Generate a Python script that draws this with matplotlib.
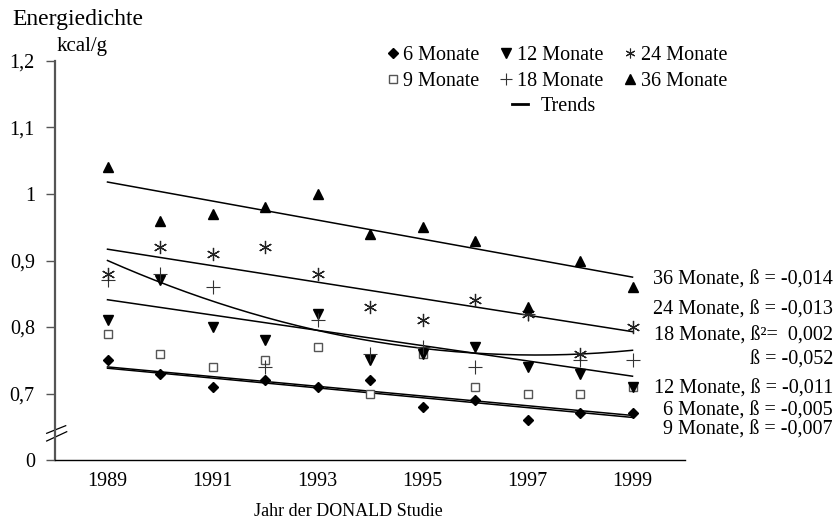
import numpy as np
import matplotlib
matplotlib.use('Agg')
import matplotlib.pyplot as plt
from matplotlib.lines import Line2D

plt.rcParams['font.family'] = ['Liberation Serif', 'DejaVu Serif']

years = np.arange(1989, 2000)
m6 = [0.75, 0.73, 0.71, 0.72, 0.71, 0.72, 0.68, 0.69, 0.66, 0.67, 0.67]
m9 = [0.79, 0.76, 0.74, 0.75, 0.77, 0.70, 0.76, 0.71, 0.70, 0.70, 0.71]
m12 = [0.81, 0.87, 0.80, 0.78, 0.82, 0.75, 0.76, 0.77, 0.74, 0.73, 0.71]
m18 = [0.87, 0.88, 0.86, 0.74, 0.81, 0.76, 0.77, 0.74, 0.82, 0.75, 0.75]
m24 = [0.88, 0.92, 0.91, 0.92, 0.88, 0.83, 0.81, 0.84, 0.82, 0.76, 0.80]
m36 = [1.04, 0.96, 0.97, 0.98, 1.00, 0.94, 0.95, 0.93, 0.83, 0.90, 0.86]

# linear trends: value at 1989 and at 1999
trend_lin = {'36': (1.018, 0.875), '24': (0.917, 0.793), '12': (0.841, 0.726),
             '6': (0.740, 0.667), '9': (0.738, 0.664)}
# 18 Monate: quadratic trend, t = Jahr - 1989
trend18 = (0.900, -0.0348, 0.00213)

notes = ['36 Monate, ß = -0,014', '24 Monate, ß = -0,013', '18 Monate, ß²=  0,002',
         'ß = -0,052', '12 Monate, ß = -0,011', '6 Monate, ß = -0,005', '9 Monate, ß = -0,007']
note_y = [280, 310, 336.5, 360, 389, 411.5, 430]

yticks = [0.6, 0.7, 0.8, 0.9, 1.0, 1.1, 1.2]
yticklabels = ['0', '0,7', '0,8', '0,9', '1', '1,1', '1,2']

W, H = 838, 530
fig = plt.figure(figsize=(W/100, H/100), dpi=100)
ax = fig.add_axes([55/W, 1-460/H, 630/W, 399/H])

fs = 14.5
gray = '#555555'

# trend lines
for key, (a, b) in trend_lin.items():
    ax.plot([years[0], years[-1]], [a, b], color='black', lw=1.1, zorder=2)
t = np.linspace(0, 10, 200)
ax.plot(years[0] + t, trend18[0] + trend18[1]*t + trend18[2]*t**2, color='black', lw=1.1, zorder=2)

ax.plot(years, m6, 'D', ms=5, color='black', ls='none', zorder=3)
ax.plot(years, m9, 's', ms=6.3, mfc='white', mec=gray, mew=1, ls='none', zorder=3)
ax.plot(years, m12, 'v', ms=6.5, color='black', ls='none', zorder=3)
ax.plot(years, m18, '+', ms=10, color='#333333', mew=0.8, ls='none', zorder=3)
ax.plot(years, m24, marker=(6, 2, 0), ms=9.5, color='#222222', mew=0.9, ls='none', zorder=3)
ax.plot(years, m36, '^', ms=6.5, color='black', ls='none', zorder=3)

ax.set_xlim(1988, 2000)
ax.set_ylim(0.6, 1.2)
ax.set_xticks(years[::2])
ax.set_xticklabels([str(y) for y in years[::2]], fontsize=fs)
ax.set_yticks(yticks)
ax.set_yticklabels(yticklabels, fontsize=fs)
ax.tick_params(axis='x', length=0, pad=9)
ax.tick_params(axis='y', length=6.5, width=1, color=gray, pad=8)

for s in ['top', 'right']:
    ax.spines[s].set_visible(False)
ax.spines['left'].set_color(gray)
ax.spines['left'].set_linewidth(1.6)
ax.spines['bottom'].set_color('black')
ax.spines['bottom'].set_linewidth(1.0)

# axis break marks
ax.plot([-0.0132, 0.0186], [0.0476, 0.0709], transform=ax.transAxes, color='black', lw=0.9, clip_on=False)
ax.plot([-0.0132, 0.0170], [0.0669, 0.0860], transform=ax.transAxes, color='black', lw=0.9, clip_on=False)

# legend
h6 = Line2D([], [], marker='D', ms=5, color='black', ls='none')
h9 = Line2D([], [], marker='s', ms=6, mfc='white', mec=gray, mew=1, ls='none')
h12 = Line2D([], [], marker='v', ms=7, color='black', ls='none')
h18 = Line2D([], [], marker='+', ms=8, color='#333333', mew=0.8, ls='none')
h24 = Line2D([], [], marker=(6, 2, 0), ms=7, color='#222222', mew=0.8, ls='none')
h36 = Line2D([], [], marker='^', ms=7, color='black', ls='none')
htr = Line2D([], [], color='black', lw=2)
handles = [h6, h9, h12, h18, h24, h36]
labels = ['6 Monate', '9 Monate', '12 Monate', '18 Monate', '24 Monate', '36 Monate']
leg = fig.legend(handles, labels, ncol=3, loc='upper left', bbox_to_anchor=(385/W, 1-46/H),
                 frameon=False, fontsize=fs, handlelength=0.75, handletextpad=0.15,
                 columnspacing=0.95, labelspacing=0.33, borderpad=0, borderaxespad=0)
fig.legend([htr], ['Trends'], loc='upper left', bbox_to_anchor=(512/W, 1-97/H),
           frameon=False, fontsize=fs, handlelength=0.8, handletextpad=0.6,
           borderpad=0, borderaxespad=0)

for txt, yp in zip(notes, note_y):
    fig.text(833/W, 1-yp/H, txt, ha='right', va='center', fontsize=fs)

fig.text(12/W, 1-25/H, 'Energiedichte', fontsize=17, va='baseline')
fig.text(57/W, 1-51.5/H, 'kcal/g', fontsize=15, va='baseline')
fig.text(348/W, 1-512/H, 'Jahr der DONALD Studie', fontsize=13, ha='center', va='center')

fig.savefig('out.png', dpi=100)
